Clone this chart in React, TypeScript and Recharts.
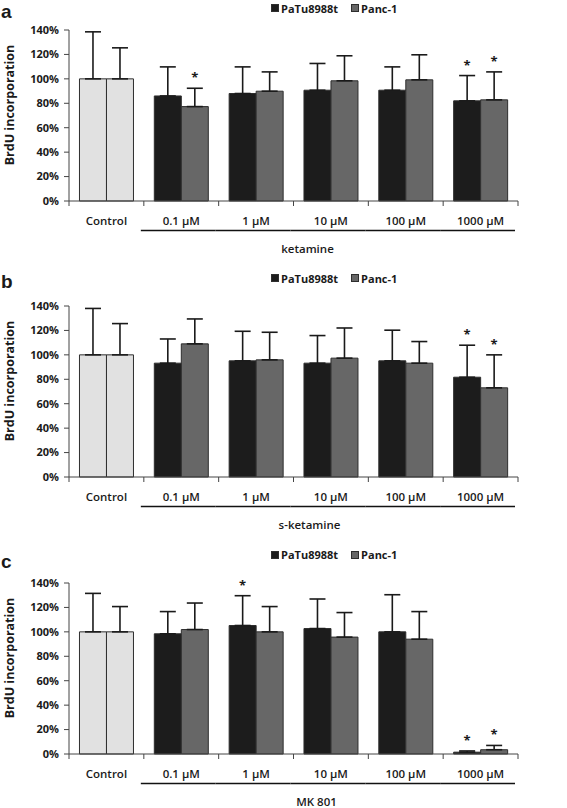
import React from 'react';
import { BarChart, Bar, XAxis, YAxis, ErrorBar, Cell, Legend, LabelList } from 'recharts';

const categories = ['Control', '0.1 µM', '1 µM', '10 µM', '100 µM', '1000 µM'];
const yTicks = [0, 20, 40, 60, 80, 100, 120, 140];
const seriesNames = ['PaTu8988t', 'Panc-1'];

// a: ketamine
const ketPaTu = [100, 86, 88, 90.7, 90.7, 82];
const ketPaTuErr = [38.5, 23.8, 21.8, 21.9, 19.1, 20.7];
const ketPaTuSig = [0, 0, 0, 0, 0, 1];
const ketPanc = [100, 77.3, 89.9, 98.4, 99.2, 82.8];
const ketPancErr = [25.4, 15, 15.8, 20.5, 20.5, 22.9];
const ketPancSig = [0, 1, 0, 0, 0, 1];

// b: s-ketamine
const sketPaTu = [100, 93.2, 95.1, 93.2, 95.1, 81.7];
const sketPaTuErr = [38, 19.8, 24.2, 22.6, 25.1, 26.2];
const sketPaTuSig = [0, 0, 0, 0, 0, 1];
const sketPanc = [100, 109, 95.9, 97.3, 93.2, 73];
const sketPancErr = [25.6, 20.4, 22.6, 24.7, 17.7, 27];
const sketPancSig = [0, 0, 0, 0, 0, 1];

// c: MK 801
const mkPaTu = [100, 98.4, 105.2, 102.7, 100, 1.5];
const mkPaTuErr = [31.5, 18.2, 24.4, 24.2, 30.4, 1];
const mkPaTuSig = [0, 0, 1, 0, 0, 1];
const mkPanc = [100, 101.9, 100, 95.7, 94, 3.5];
const mkPancErr = [20.7, 21.7, 20.7, 20.1, 22.6, 3.5];
const mkPancSig = [0, 0, 0, 0, 0, 1];

const W = 567;
const H = 255;
const TOP = 30;
const Y_W = 69;
const RIGHT = 49;
const BAND = (W - Y_W - RIGHT) / categories.length;

const PATU = '#1c1c1c';
const PANC = '#676767';
const CTRL = '#e1e1e1';
const EDGE = '#2e2e2e';
const INK = '#1a1a1a';
const FONT = '"Open Sans", "DejaVu Sans", sans-serif';

const buildRows = (pa: number[], paE: number[], paS: number[], pc: number[], pcE: number[], pcS: number[]) =>
  categories.map((name, i) => ({
    name,
    paTu: pa[i],
    paTuErr: [0, paE[i]],
    paTuStar: paS[i] ? paE[i] / pa[i] : null,
    panc: pc[i],
    pancErr: [0, pcE[i]],
    pancStar: pcS[i] ? pcE[i] / pc[i] : null,
  }));

const panels = [
  { top: 0, letter: 'a', letterY: 18, legendY: 8, group: 'ketamine', groupDx: 14, rows: buildRows(ketPaTu, ketPaTuErr, ketPaTuSig, ketPanc, ketPancErr, ketPancSig) },
  { top: 276, letter: 'b', letterY: 12, legendY: 2, group: 's-ketamine', groupDx: 16, rows: buildRows(sketPaTu, sketPaTuErr, sketPaTuSig, sketPanc, sketPancErr, sketPancSig) },
  { top: 553, letter: 'c', letterY: 15, legendY: 1.5, group: 'MK 801', groupDx: 23, rows: buildRows(mkPaTu, mkPaTuErr, mkPaTuSig, mkPanc, mkPancErr, mkPancSig) },
];

// star sits above the error bar; value = err / mean, so bar height gives the px scale
const Star = (p: any) => {
  if (p.value == null) return null;
  const b = p.viewBox && p.viewBox.width != null ? p.viewBox : p;
  const cx = b.x + b.width / 2;
  const errTop = b.y - Math.abs(b.height) * p.value;
  return (
    <text x={cx} y={errTop - 6} textAnchor="middle" fontSize={13} fontWeight={700} fill={INK} fontFamily={FONT}>
      *
    </text>
  );
};

const CategoryTick = (p: any) => {
  const { x, y, index, payload } = p;
  const half = BAND / 2;
  return (
    <g>
      <line x1={x - half} x2={x - half} y1={y} y2={y + 5} stroke="#444" />
      {index === categories.length - 1 && <line x1={x + half} x2={x + half} y1={y} y2={y + 5} stroke="#444" />}
      <text x={x} y={y + 24} textAnchor="middle" fontSize={11.5} fontWeight={600} fill={INK} fontFamily={FONT}>
        {payload.value}
      </text>
      {index > 0 && <line x1={x - half - 3} x2={x + half - 3} y1={y + 29.5} y2={y + 29.5} stroke="#111" strokeWidth={1.3} />}
    </g>
  );
};

const LegendBox = (p: any) => {
  const items = p.payload && p.payload.length ? p.payload.map((e: any) => ({ name: e.value, color: e.color })) : [
    { name: seriesNames[0], color: PATU },
    { name: seriesNames[1], color: PANC },
  ];
  return (
    <div style={{ display: 'flex', gap: 13, fontFamily: FONT, fontWeight: 700, fontSize: 11, color: INK, lineHeight: '13px', whiteSpace: 'nowrap' }}>
      {items.map((it: any) => (
        <span key={it.name} style={{ display: 'flex', alignItems: 'center', gap: 2 }}>
          <span style={{ width: 6, height: 6, background: it.color, border: `1px solid ${EDGE}` }} />
          {it.name}
        </span>
      ))}
    </div>
  );
};

function Panel({ cfg }: { cfg: (typeof panels)[number] }) {
  return (
    <div style={{ position: 'absolute', left: 0, top: cfg.top, width: W, height: H }}>
      <div style={{ position: 'absolute', left: 1, top: cfg.letterY - 16, fontFamily: '"Liberation Sans", Arial, sans-serif', fontWeight: 700, fontSize: 19, lineHeight: '19px', color: INK }}>
        {cfg.letter}
      </div>
      <BarChart width={W} height={H} data={cfg.rows} margin={{ top: TOP, right: RIGHT, bottom: 0, left: 0 }} barCategoryGap="14%" barGap={0}>
        <Legend
          layout="vertical"
          verticalAlign="middle"
          align="center"
          content={LegendBox}
          wrapperStyle={{ top: cfg.legendY - 6.5, left: 271, width: 'auto' }}
        />
        <XAxis
          dataKey="name"
          height={H - TOP - 171}
          stroke="#444"
          tickLine={false}
          tickSize={0}
          tickMargin={0}
          interval={0}
          tick={CategoryTick}
          label={{
            content: (lp: any) => {
              const vb = lp.viewBox;
              return (
                <text x={vb.x + vb.width / 2 + cfg.groupDx} y={vb.y + 52} textAnchor="middle" fontSize={11.5} fontWeight={600} fill={INK} fontFamily={FONT}>
                  {cfg.group}
                </text>
              );
            },
          }}
        />
        <YAxis
          width={Y_W}
          domain={[0, 140]}
          ticks={yTicks}
          interval={0}
          tickFormatter={(v) => `${v}%`}
          stroke="#444"
          tickSize={5}
          tickMargin={5}
          tick={{ fontSize: 11, fontWeight: 700, fill: INK, fontFamily: FONT }}
          label={{
            content: (lp: any) => {
              const vb = lp.viewBox;
              const cy = vb.y + 75;
              return (
                <text x={9} y={cy} transform={`rotate(-90, 9, ${cy})`} textAnchor="middle" dominantBaseline="central" fontSize={12.5} fontWeight={700} fill={INK} fontFamily={FONT}>
                  BrdU incorporation
                </text>
              );
            },
          }}
        />
        <Bar dataKey="paTu" name={seriesNames[0]} fill={PATU} stroke={EDGE} strokeWidth={1} isAnimationActive={false}>
          {cfg.rows.map((r, i) => (
            <Cell key={r.name} fill={i === 0 ? CTRL : PATU} />
          ))}
          <ErrorBar dataKey="paTuErr" direction="y" width={8} stroke={INK} strokeWidth={1.6} />
          <LabelList dataKey="paTuStar" content={Star} />
        </Bar>
        <Bar dataKey="panc" name={seriesNames[1]} fill={PANC} stroke={EDGE} strokeWidth={1} isAnimationActive={false}>
          {cfg.rows.map((r, i) => (
            <Cell key={r.name} fill={i === 0 ? CTRL : PANC} />
          ))}
          <ErrorBar dataKey="pancErr" direction="y" width={8} stroke={INK} strokeWidth={1.6} />
          <LabelList dataKey="pancStar" content={Star} />
        </Bar>
      </BarChart>
    </div>
  );
}

export default function App() {
  return (
    <div style={{ position: 'absolute', left: 0, top: 0, width: W, height: 808, overflow: 'hidden', background: '#fff' }}>
      {panels.map((cfg) => (
        <Panel key={cfg.letter} cfg={cfg} />
      ))}
    </div>
  );
}
